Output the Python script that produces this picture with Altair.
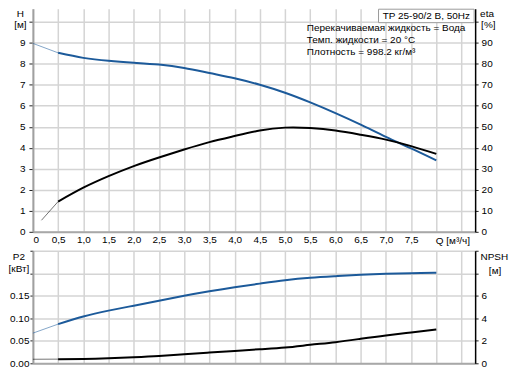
import altair as alt
import pandas as pd

# ---------------- data ----------------
Q = [0.0, 0.5, 1.0, 1.5, 2.0, 2.5, 3.0, 3.5, 4.0, 4.5, 5.0, 5.5, 6.0, 6.5, 7.0, 7.5, 8.0]
H = [8.97, 8.52, 8.28, 8.14, 8.05, 7.96, 7.80, 7.56, 7.31, 7.00, 6.62, 6.16, 5.65, 5.10, 4.52, 3.97, 3.40]
Q_ETA = [0.17, 0.5, 1.0, 1.5, 2.0, 2.5, 3.0, 3.5, 4.0, 4.5, 5.0, 5.5, 6.0, 6.5, 7.0, 7.5, 8.0]
ETA = [5.5, 14.4, 21.0, 26.5, 31.3, 35.4, 39.2, 42.7, 45.6, 48.2, 49.6, 49.4, 48.2, 46.2, 43.9, 40.8, 37.1]
P2 = [0.067, 0.087, 0.104, 0.117, 0.128, 0.139, 0.150, 0.160, 0.169, 0.177, 0.1845, 0.190, 0.1935,
      0.1965, 0.1987, 0.2002, 0.201]
NPSH = [0.36, 0.37, 0.39, 0.45, 0.54, 0.65, 0.80, 0.95, 1.10, 1.25, 1.40, 1.64, 1.88, 2.18, 2.48, 2.74, 3.00]

X_TICKS = [i * 0.5 for i in range(18)]
H_TICKS = list(range(11))
ETA_TICKS = list(range(0, 101, 10))
P2_TICKS = [0.0, 0.05, 0.10, 0.15, 0.20, 0.25]
NPSH_TICKS = [0, 2, 4, 6, 8, 10]

TITLE_BOX = "TP 25-90/2 B, 50Hz"
INFO_LINES = ["Перекачиваемая жидкость = Вода", "Темп. жидкости = 20 °C", "Плотность = 998.2 кг/м³"]
H_TITLE = ["H", "[м]"]
ETA_TITLE = ["eta", "[%]"]
P2_TITLE = ["P2", "[кВт]"]
NPSH_TITLE = ["NPSH", "[м]"]
Q_TITLE = "Q [м³/ч]"

BLUE = "#1c5a9a"
FONT = "Liberation Sans"
FS = 10
W = 444
H_TOP = 224
H_BOT = 113
INTERP = "natural"


def split(qs, vs, name):
    rows = []
    for q, v in zip(qs, vs):
        if q <= 0.5:
            rows.append({"Q": q, name: v, "seg": "start"})
        if q >= 0.5:
            rows.append({"Q": q, name: v, "seg": "main"})
    return pd.DataFrame(rows)


df_h = split(Q, H, "H")
df_eta = split(Q_ETA, ETA, "eta")
df_p2 = split(Q, P2, "P2")
df_npsh = split(Q, NPSH, "NPSH")

sw = alt.StrokeWidth("seg:N", scale=alt.Scale(domain=["start", "main"], range=[1, 2]), legend=None)
op = alt.Opacity("seg:N", scale=alt.Scale(domain=["start", "main"], range=[0.55, 1]), legend=None)

xscale = alt.Scale(domain=[0, 8.77], nice=False, zero=False)
x_top = alt.X("Q:Q", scale=xscale, title=None,
              axis=alt.Axis(values=X_TICKS, ticks=False, labelPadding=3, domainColor="#a8a8a8",
                            domainWidth=2,
                            labelExpr="datum.value >= 8 ? '' : (datum.value == 0 ? '0' : "
                                      "replace(format(datum.value, '.1f'), '.', ','))"))
x_bot = alt.X("Q:Q", scale=xscale, title=None,
              axis=alt.Axis(values=X_TICKS, ticks=False, labels=False, domainColor="#a8a8a8",
                            domainWidth=2))


def txt(label, x, y, align="left", size=FS):
    return alt.Chart(alt.Data(values=[{}])).mark_text(
        align=align, baseline="middle", font=FONT, fontSize=size, color="black"
    ).encode(x=alt.value(x), y=alt.value(y), text=alt.value(label))


# ---------------- top panel ----------------
h_line = alt.Chart(df_h).mark_line(color=BLUE, interpolate=INTERP).encode(
    x=x_top,
    y=alt.Y("H:Q", title=None, scale=alt.Scale(domain=[0, 10.62], nice=False),
            axis=alt.Axis(orient="left", values=H_TICKS, tickSize=4, labelPadding=4,
                          domainColor="#a0a0a0", domainWidth=2,
                          labelExpr="datum.value <= 9 ? datum.label : ''")),
    strokeWidth=sw, opacity=op, detail="seg:N")

eta_line = alt.Chart(df_eta).mark_line(color="black", interpolate=INTERP).encode(
    x=x_top,
    y=alt.Y("eta:Q", title=None, scale=alt.Scale(domain=[0, 106.2], nice=False),
            axis=alt.Axis(orient="right", values=ETA_TICKS, tickSize=3, labelPadding=3, grid=False,
                          domainColor="black", domainWidth=1.5,
                          labelExpr="datum.value <= 90 ? datum.label : ''")),
    strokeWidth=sw, opacity=op, detail="seg:N")

box = alt.Chart(alt.Data(values=[{}])).mark_rect(fill="white", stroke="#9a9a9a", strokeWidth=1).encode(
    x=alt.value(347), x2=alt.value(443), y=alt.value(0.5), y2=alt.value(14))

top_texts = [
    box,
    txt(TITLE_BOX, 395, 7.5, "center"),
    txt(INFO_LINES[0], 275, 19),
    txt(INFO_LINES[1], 275, 31),
    txt(INFO_LINES[2], 275, 43),
    txt(H_TITLE[0], -12.5, 5, "center"),
    txt(H_TITLE[1], -12.5, 16.5, "center"),
    txt(ETA_TITLE[0], 449, 5),
    txt(ETA_TITLE[1], 450, 16.5),
    txt(Q_TITLE, 404.5, 233),
]

top = alt.layer(h_line, eta_line, *top_texts).resolve_scale(y="independent").properties(
    width=W, height=H_TOP)

# ---------------- bottom panel ----------------
p2_line = alt.Chart(df_p2).mark_line(color=BLUE, interpolate=INTERP).encode(
    x=x_bot,
    y=alt.Y("P2:Q", title=None, scale=alt.Scale(domain=[0, 0.25], nice=False),
            axis=alt.Axis(orient="left", values=P2_TICKS, tickSize=3, labelPadding=1, format=".2f",
                          domainColor="#a0a0a0", domainWidth=2,
                          labelExpr="datum.value <= 0.16 ? datum.label : ''")),
    strokeWidth=sw, opacity=op, detail="seg:N")

npsh_line = alt.Chart(df_npsh).mark_line(color="black", interpolate=INTERP).encode(
    x=x_bot,
    y=alt.Y("NPSH:Q", title=None, scale=alt.Scale(domain=[0, 10], nice=False),
            axis=alt.Axis(orient="right", values=NPSH_TICKS, tickSize=3, labelPadding=3, grid=False,
                          domainColor="black", domainWidth=1.5,
                          labelExpr="datum.value <= 6 ? datum.label : ''")),
    strokeWidth=sw, opacity=op, detail="seg:N")

bot_texts = [
    txt(P2_TITLE[0], -14, 6.7, "center"),
    txt(P2_TITLE[1], -14, 18.3, "center"),
    txt(NPSH_TITLE[0], 463.3, 6.7, "center"),
    txt(NPSH_TITLE[1], 464, 20.3, "center"),
]

bottom = alt.layer(p2_line, npsh_line, *bot_texts).resolve_scale(y="independent").properties(
    width=W, height=H_BOT)

chart = alt.vconcat(top, bottom, spacing=4).properties(padding=0).configure_view(
    stroke=None
).configure_axis(
    labelFont=FONT, labelFontSize=FS, labelColor="black", tickColor="#222",
    gridColor="#d4d4d4", gridWidth=1.5
)

chart.save("out.html", embed_options={"renderer": "svg", "actions": False})
